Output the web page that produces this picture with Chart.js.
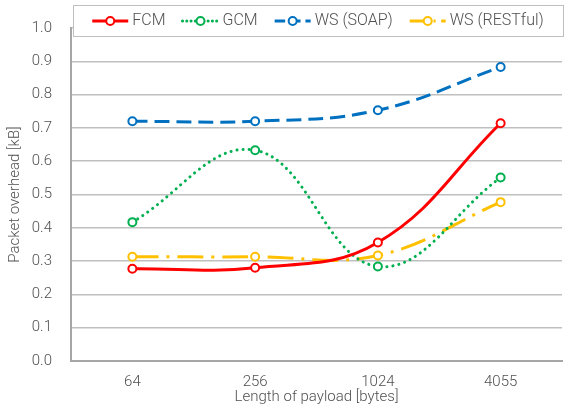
<!DOCTYPE html>
<html>
<head>
<meta charset="utf-8">
<script src="https://cdn.jsdelivr.net/npm/chart.js@4/dist/chart.umd.min.js"></script>
<style>
  body { margin: 0; background: #fff; }
  #wrap { width: 568px; height: 409px; position: relative; }
</style>
</head>
<body>
<div id="wrap"><canvas id="overheadChart"></canvas></div>
<script>
// payload sizes on the x axis
const payloadLabels = ["64", "256", "1024", "4055"];

// packet overhead in kB
const fcmValues = [0.277, 0.280, 0.356, 0.714];
const gcmValues = [0.417, 0.633, 0.284, 0.551];
const soapValues = [0.720, 0.720, 0.753, 0.883];
const restValues = [0.313, 0.313, 0.317, 0.477];

const seriesNames = ["FCM", "GCM", "WS (SOAP)", "WS (RESTful)"];

const FONT = "Roboto, 'Open Sans', sans-serif";
const WEIGHT = 300;
const TEXT_COLOR = "#505050";

function series(label, values, color, dash, cap, width) {
    return {
        label: label,
        data: values,
        borderColor: color,
        backgroundColor: "#ffffff",
        borderWidth: width,
        borderDash: dash,
        borderCapStyle: cap,
        tension: 0.4,
        pointRadius: 4,
        pointBorderWidth: 2,
        pointBorderColor: color,
        pointBackgroundColor: "#ffffff",
        fill: false
    };
}

// draws the boxed legend over the top of the plot, like the original
const boxedLegend = {
    id: "boxedLegend",
    afterDraw(chart) {
        const ctx = chart.ctx;
        const boxLeft = 73, boxTop = 5, boxRight = 563, boxBottom = 36;
        ctx.save();
        ctx.fillStyle = "#ffffff";
        ctx.fillRect(boxLeft, boxTop, boxRight - boxLeft, boxBottom - boxTop);
        ctx.strokeStyle = "#bfbfbf";
        ctx.lineWidth = 1;
        ctx.strokeRect(boxLeft + 0.5, boxTop + 0.5, boxRight - boxLeft, boxBottom - boxTop);

        ctx.font = WEIGHT + " 16px " + FONT;
        ctx.textBaseline = "middle";
        const sampleLen = 36, textGap = 4, itemGap = 17;
        const datasets = chart.data.datasets;
        const widths = datasets.map(ds => sampleLen + textGap + ctx.measureText(ds.label).width);
        const total = widths.reduce((a, b) => a + b, 0) + itemGap * (datasets.length - 1);
        let x = (boxLeft + boxRight) / 2 - total / 2;
        const y = (boxTop + boxBottom) / 2 + 0.5;

        datasets.forEach((ds, i) => {
            ctx.beginPath();
            ctx.strokeStyle = ds.borderColor;
            ctx.lineWidth = ds.borderWidth;
            ctx.lineCap = ds.borderCapStyle;
            ctx.setLineDash(ds.borderDash.length ? ds.borderDash.map(d => d * 0.7) : []);
            ctx.moveTo(x, y);
            ctx.lineTo(x + sampleLen, y);
            ctx.stroke();
            ctx.setLineDash([]);
            ctx.beginPath();
            ctx.arc(x + sampleLen / 2, y, 4, 0, Math.PI * 2);
            ctx.fillStyle = "#ffffff";
            ctx.fill();
            ctx.lineWidth = 2;
            ctx.stroke();

            ctx.fillStyle = TEXT_COLOR;
            ctx.fillText(ds.label, x + sampleLen + textGap, y);
            x += widths[i] + itemGap;
        });
        ctx.restore();
    }
};

const ctx = document.getElementById("overheadChart").getContext("2d");
new Chart(ctx, {
    type: "line",
    data: {
        labels: payloadLabels,
        datasets: [
            series(seriesNames[0], fcmValues, "#ff0000", [], "butt", 3),
            series(seriesNames[1], gcmValues, "#00b050", [0.1, 6], "round", 3),
            series(seriesNames[2], soapValues, "#0070c0", [15, 7], "butt", 3),
            series(seriesNames[3], restValues, "#ffc000", [26, 8, 3, 8], "butt", 3)
        ]
    },
    options: {
        responsive: true,
        maintainAspectRatio: false,
        animation: false,
        layout: { padding: { top: 17, right: 1, left: 0, bottom: 0 } },
        plugins: {
            legend: { display: false },
            tooltip: { enabled: false }
        },
        scales: {
            x: {
                offset: true,
                grid: { display: false, drawTicks: false },
                border: { color: "#a6a6a6", width: 2 },
                ticks: { color: TEXT_COLOR, padding: 12, font: { family: FONT, size: 15, weight: WEIGHT } },
                title: {
                    display: true,
                    text: "Length of payload [bytes]",
                    color: TEXT_COLOR,
                    font: { family: FONT, size: 15, weight: WEIGHT },
                    padding: { top: 0, bottom: 3 }
                },
                afterFit: scale => { scale.height = 48; }
            },
            y: {
                min: 0,
                max: 1,
                grid: { color: "#bfbfbf", lineWidth: 1.5, drawTicks: false },
                border: { color: "#a6a6a6", width: 2 },
                ticks: {
                    stepSize: 0.1,
                    color: TEXT_COLOR,
                    padding: 19,
                    font: { family: FONT, size: 15, weight: WEIGHT },
                    callback: v => v.toFixed(1)
                },
                title: {
                    display: true,
                    text: "Packet overhead [kB]",
                    color: TEXT_COLOR,
                    font: { family: FONT, size: 15, weight: WEIGHT },
                    padding: { top: 6, bottom: 0 }
                },
                afterFit: scale => { scale.width = 71; }
            }
        }
    },
    plugins: [boxedLegend]
});
</script>
</body>
</html>
